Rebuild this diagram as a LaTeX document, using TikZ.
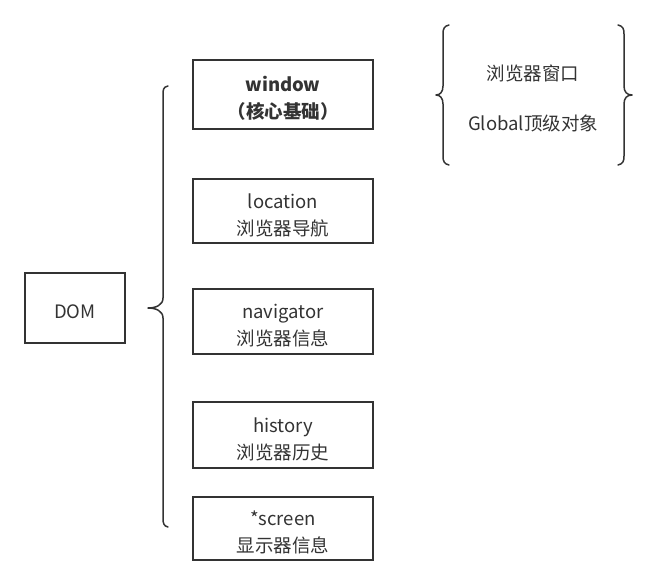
\documentclass[tikz,border=0pt]{standalone}
\usepackage{fontspec}
\setmainfont{Noto Sans CJK SC}
\definecolor{ink}{HTML}{333333}
\newcommand{\tup}{\rule{0pt}{23pt}}
\begin{document}
\begin{tikzpicture}[x=1pt,y=-1pt,
  box/.style={draw=ink,line width=1.5pt,minimum width=180pt,minimum height=65pt,inner sep=0pt,align=center,text=ink,font=\fontsize{18.5}{27}\selectfont},
  brace/.style={draw=ink,line width=1.5pt,line cap=round,line join=round},
  lbl/.style={text=ink,font=\fontsize{18.5}{20}\selectfont,inner sep=0pt}]
\useasboundingbox (0,0) rectangle (660,585);
\node[box,minimum width=100pt,minimum height=70pt] (dom) at (75,308) {\rule{0pt}{22pt}DOM};
\node[box,minimum height=69pt,font=\fontsize{18.5}{27}\selectfont\bfseries] (win) at (283,94.5) {\tup window\\（核心基础）};
\node[box,minimum height=64pt] (loc) at (283,211) {\tup location\\浏览器导航};
\node[box] (nav) at (283,321.5) {\tup navigator\\浏览器信息};
\node[box,minimum height=66pt] (his) at (283,435) {\tup history\\浏览器历史};
\node[box,minimum height=63pt] (scr) at (283,528.5) {\tup *screen\\显示器信息};
% big left brace
\coordinate (bt) at (168,86);
\coordinate (bb) at (168,527);
\coordinate (btip) at (148,308);
\draw[brace] (bt) .. controls (163,87) and (163,90) .. (163,95) -- (163,298)
  .. controls (163,305) and (156,308) .. (btip)
  .. controls (156,308) and (163,311) .. (163,318) -- (163,518)
  .. controls (163,524) and (164,526) .. (bb);
% right-side braces
\draw[brace] (449,25) .. controls (444,26) and (443,29) .. (443,34) -- (443,86)
  .. controls (443,92) and (440,95) .. (436,95)
  .. controls (440,95) and (443,98) .. (443,104) -- (443,156)
  .. controls (443,161) and (444,164) .. (449,165);
\draw[brace] (618,25) .. controls (623,26) and (624,29) .. (624,34) -- (624,86)
  .. controls (624,92) and (627,95) .. (632,95)
  .. controls (627,95) and (624,98) .. (624,104) -- (624,156)
  .. controls (624,161) and (623,164) .. (618,165);
\node[lbl] (t1) at (533,73) {浏览器窗口};
\node[lbl] (t2) at (533,123) {Global顶级对象};
\end{tikzpicture}
\end{document}
